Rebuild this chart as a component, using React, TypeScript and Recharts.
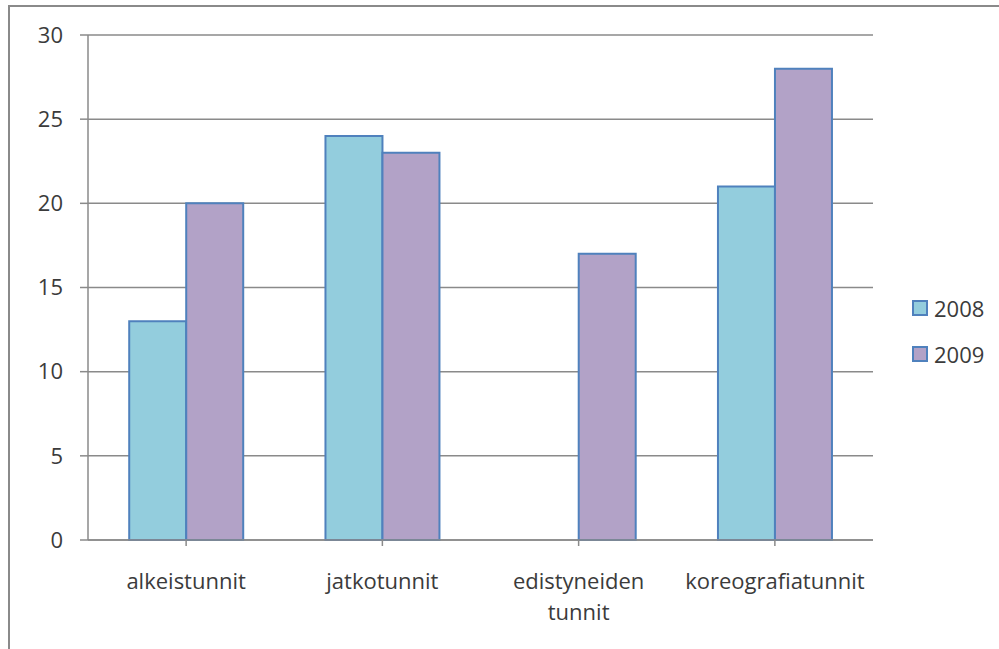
import { Bar, BarChart, CartesianGrid, XAxis, YAxis } from "recharts"

const categories = ["alkeistunnit", "jatkotunnit", "edistyneiden tunnit", "koreografiatunnit"]
const values2008 = [13, 24, null, 21]
const values2009 = [20, 23, 17, 28]
const yTicks = [0, 5, 10, 15, 20, 25, 30]

const series = [
  { key: "y2008", name: "2008", fill: "#93cddd" },
  { key: "y2009", name: "2009", fill: "#b2a2c7" },
]

const data = categories.map((name, i) => ({
  name,
  y2008: values2008[i],
  y2009: values2009[i],
}))

const textColor = "#3b3b3b"
const lineColor = "#8a8a8a"
const barStroke = "#4f81bd"

function CategoryTick(props: any) {
  const { x, y, payload } = props
  const label: string = payload.value
  // long multi-word labels wrap onto two lines like in the original
  const lines = label.length > 16 && label.includes(" ") ? label.split(" ") : [label]
  return (
    <text x={x} y={y} textAnchor="middle" fill={textColor} fontSize={22}>
      {lines.map((line, i) => (
        <tspan key={i} x={x} dy={i === 0 ? 43 : 31}>
          {line}
        </tspan>
      ))}
    </text>
  )
}

export default function App() {
  return (
    <div
      style={{
        position: "absolute",
        left: 0,
        top: 0,
        width: 999,
        height: 649,
        background: "#fff",
        fontFamily: "'Open Sans', sans-serif",
      }}
    >
      <div
        style={{
          position: "absolute",
          left: 8,
          top: 5,
          width: 991,
          height: 644,
          borderTop: `2px solid ${lineColor}`,
          borderLeft: `2px solid ${lineColor}`,
          boxSizing: "border-box",
        }}
      />
      <div style={{ position: "absolute", left: 0, top: 0 }}>
        <BarChart
          width={999}
          height={649}
          data={data}
          margin={{ top: 35, right: 126, left: 28, bottom: 49 }}
          barCategoryGap="21%"
          barGap={0}
        >
          <CartesianGrid vertical={false} stroke={lineColor} strokeWidth={1.5} />
          <XAxis
            dataKey="name"
            height={60}
            stroke={lineColor}
            strokeWidth={1.5}
            tickSize={6}
            tickMargin={0}
            tick={<CategoryTick />}
            interval={0}
          />
          <YAxis
            width={60}
            domain={[0, 30]}
            ticks={yTicks}
            stroke={lineColor}
            strokeWidth={1.5}
            tickSize={8}
            tickMargin={17}
            tick={{ fill: textColor, fontSize: 22 }}
            interval={0}
          />
          {series.map((s) => (
            <Bar
              key={s.key}
              dataKey={s.key}
              name={s.name}
              fill={s.fill}
              stroke={barStroke}
              strokeWidth={2}
              isAnimationActive={false}
            />
          ))}
        </BarChart>
      </div>
      <div style={{ position: "absolute", left: 912, top: 293 }}>
        {series.map((s) => (
          <div
            key={s.key}
            style={{ display: "flex", alignItems: "center", height: 29, marginBottom: 17 }}
          >
            <span
              style={{
                display: "inline-block",
                width: 12,
                height: 12,
                background: s.fill,
                border: `2px solid ${barStroke}`,
                marginRight: 6,
              }}
            />
            <span style={{ fontSize: 22, color: textColor }}>{s.name}</span>
          </div>
        ))}
      </div>
    </div>
  )
}
